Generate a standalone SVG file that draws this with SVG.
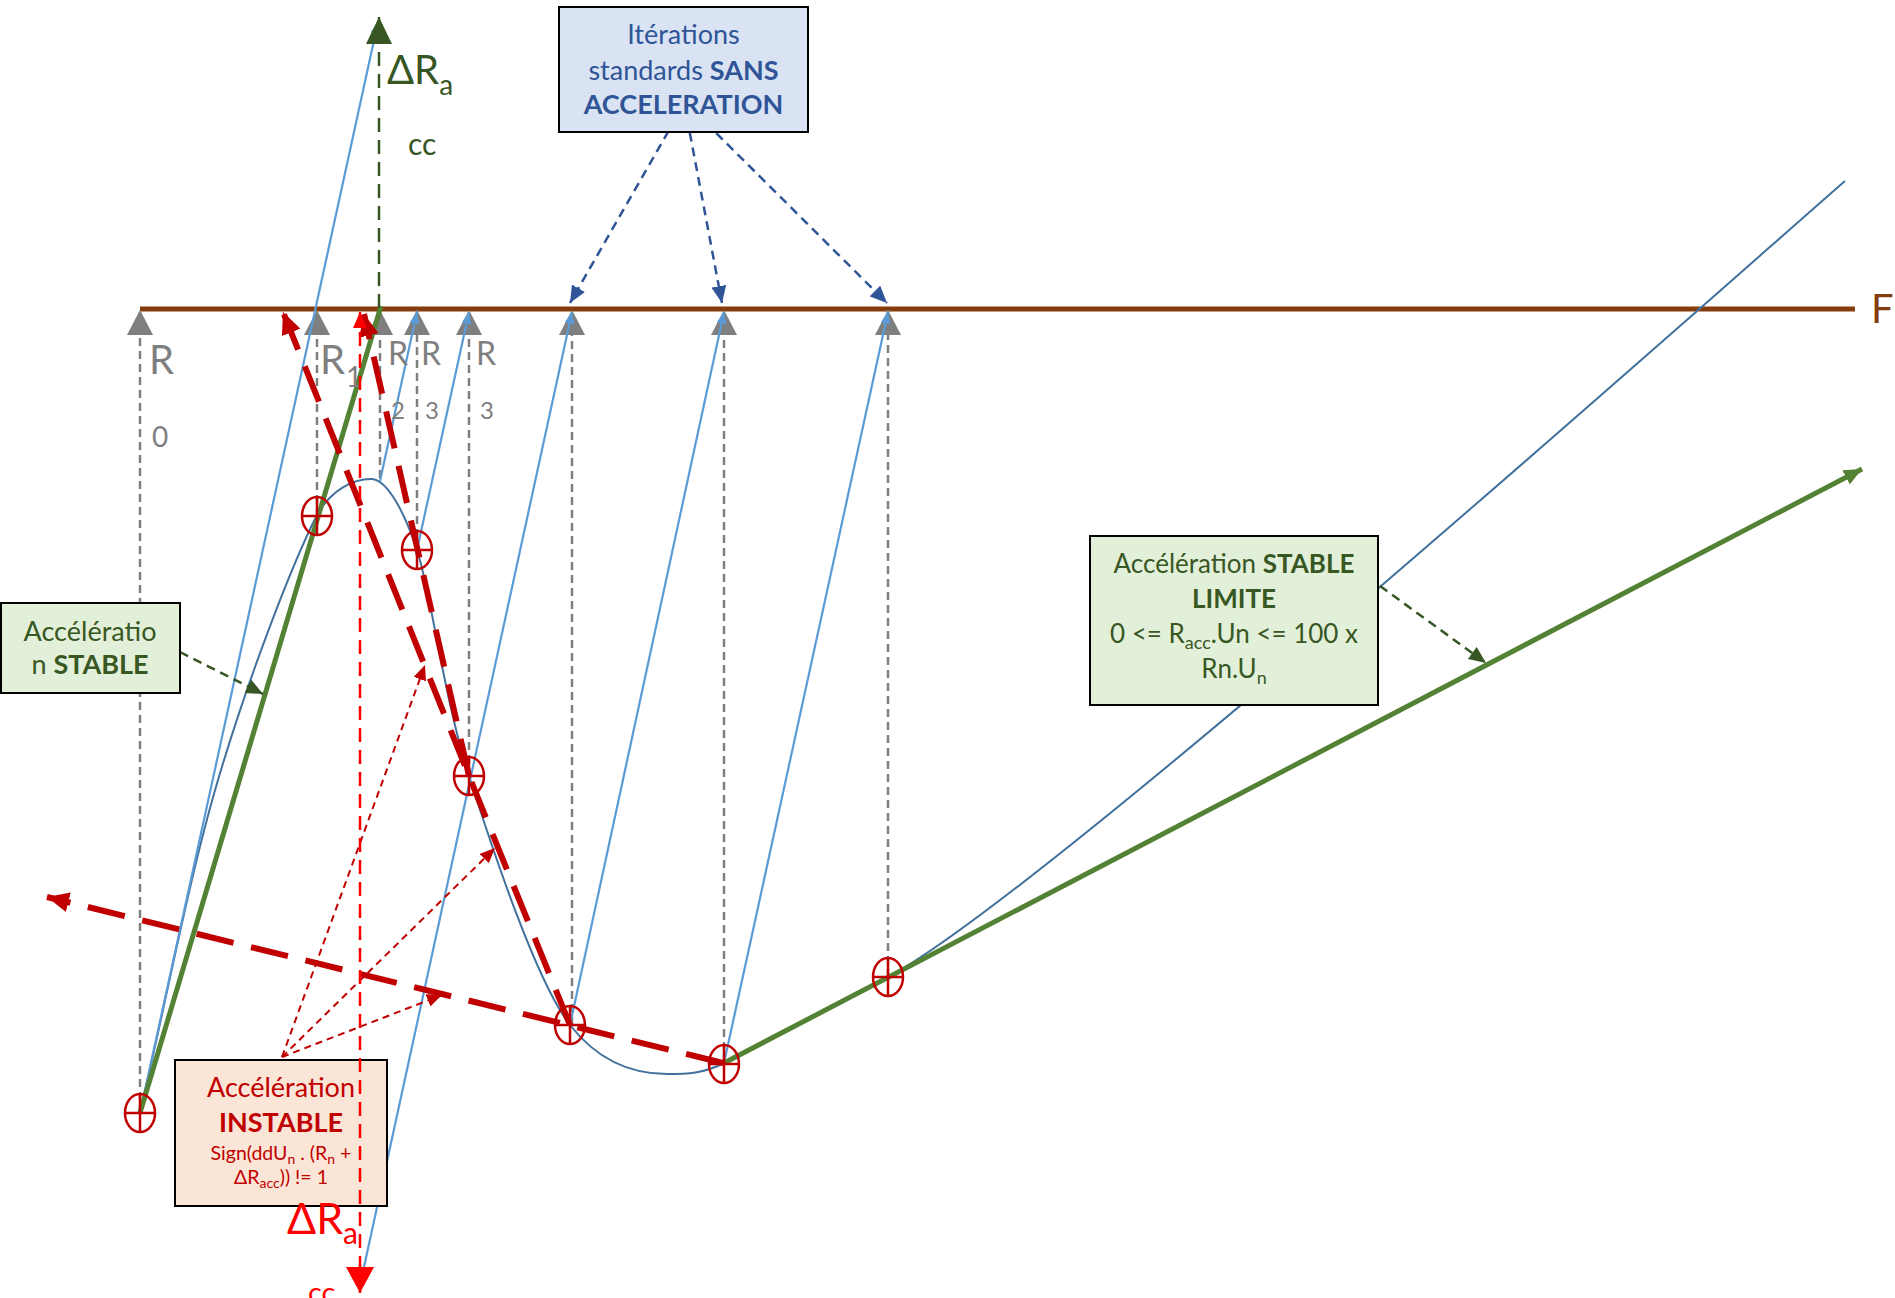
<svg xmlns="http://www.w3.org/2000/svg" width="1895" height="1298" viewBox="0 0 1895 1298">
<style>
.t{font-family:Lato,"Noto Sans","Liberation Sans",sans-serif}
.b{font-weight:bold}
.gd{stroke:#7F7F7F;stroke-width:2.5;stroke-dasharray:8 5;fill:none}
.bl{stroke:#5B9BD5;stroke-width:2.2;fill:none}
.gr{stroke:#548235;stroke-width:5;fill:none}
.rt{stroke:#C00000;stroke-width:6;stroke-dasharray:38 18;fill:none}
.rn{stroke:#C00000;stroke-width:2;stroke-dasharray:7 5;fill:none}
.nv{stroke:#2F5597;stroke-width:2.5;stroke-dasharray:9 6;fill:none}
.dg{stroke:#375623;stroke-width:2.5;stroke-dasharray:9 6;fill:none}
.box{stroke:#000;stroke-width:2}
.gl{fill:#7F7F7F}
.mk ellipse,.mk line{stroke:#C00000;stroke-width:2.5;fill:none}
</style>
<defs>
<marker id="aGray" markerUnits="userSpaceOnUse" markerWidth="26" markerHeight="26" refX="25" refY="13" orient="auto"><path d="M0,0L25,13L0,26z" fill="#7F7F7F"/></marker>
<marker id="aGreenBig" markerUnits="userSpaceOnUse" markerWidth="27" markerHeight="26" refX="27" refY="13" orient="auto"><path d="M0,0L27,13L0,26z" fill="#375623"/></marker>
<marker id="aRedBig" markerUnits="userSpaceOnUse" markerWidth="26" markerHeight="28" refX="26" refY="14" orient="auto"><path d="M0,0L26,14L0,28z" fill="#FF0000"/></marker>
<marker id="aRedSmall" markerUnits="userSpaceOnUse" markerWidth="16" markerHeight="14" refX="16" refY="7" orient="auto"><path d="M0,0L16,7L0,14z" fill="#FF0000"/></marker>
<marker id="aBlue" markerUnits="userSpaceOnUse" markerWidth="12" markerHeight="10" refX="12" refY="5" orient="auto"><path d="M0,0L12,5L0,10z" fill="#5B9BD5"/></marker>
<marker id="aNavy" markerUnits="userSpaceOnUse" markerWidth="17" markerHeight="15" refX="17" refY="7.5" orient="auto"><path d="M0,0L17,7.5L0,15z" fill="#2F5597"/></marker>
<marker id="aDG" markerUnits="userSpaceOnUse" markerWidth="17" markerHeight="15" refX="17" refY="7.5" orient="auto"><path d="M0,0L17,7.5L0,15z" fill="#375623"/></marker>
<marker id="aGreen" markerUnits="userSpaceOnUse" markerWidth="18" markerHeight="16" refX="18" refY="8" orient="auto"><path d="M0,0L18,8L0,16z" fill="#548235"/></marker>
<marker id="aRedT" markerUnits="userSpaceOnUse" markerWidth="22" markerHeight="20" refX="22" refY="10" orient="auto"><path d="M0,0L22,10L0,20z" fill="#C00000"/></marker>
<marker id="aRedN" markerUnits="userSpaceOnUse" markerWidth="15" markerHeight="13" refX="15" refY="6.5" orient="auto"><path d="M0,0L15,6.5L0,13z" fill="#C00000"/></marker>
<g id="mk" class="mk"><ellipse cx="0" cy="0" rx="15" ry="19"/><line x1="-15" y1="0" x2="15" y2="0"/><line x1="0" y1="-19" x2="0" y2="19"/></g>
</defs>
<rect width="1895" height="1298" fill="#fff"/>

<g id="connectors">
<line x1="140" y1="309" x2="1855" y2="309" stroke="#843C0C" stroke-width="5"/>
<line class="gd" x1="140" y1="1113" x2="140" y2="310" marker-end="url(#aGray)"/>
<line class="gd" x1="317" y1="516" x2="317" y2="310" marker-end="url(#aGray)"/>
<line class="gd" x1="380" y1="478" x2="380" y2="310" marker-end="url(#aGray)"/>
<line class="gd" x1="417" y1="550" x2="417" y2="310" marker-end="url(#aGray)"/>
<line class="gd" x1="469" y1="776" x2="469" y2="310" marker-end="url(#aGray)"/>
<line class="gd" x1="572" y1="1025" x2="572" y2="310" marker-end="url(#aGray)"/>
<line class="gd" x1="724" y1="1063" x2="724" y2="310" marker-end="url(#aGray)"/>
<line class="gd" x1="888" y1="977" x2="888" y2="310" marker-end="url(#aGray)"/>
<path d="M140,1113 C166,1002 188.5,879.7 218,780 C247.5,680.3 291.5,565 317,515 C331,490 353,479 371,479 C386,479 403,508 417,550 C431,592 443.5,696.8 469,776 C494.5,855.2 537,983 570,1025 C595,1057 627,1074 667,1074 C687,1074 704,1073.5 724,1063 L888,977 C1038,898 1695,312 1845,181" fill="none" stroke="#41719C" stroke-width="2"/>
<line class="bl" x1="140" y1="1113" x2="378" y2="22" marker-end="url(#aBlue)"/>
<line class="bl" x1="380" y1="481" x2="417" y2="312" marker-end="url(#aBlue)"/>
<line class="bl" x1="417" y1="550" x2="469" y2="312" marker-end="url(#aBlue)"/>
<line class="bl" x1="364" y1="1267" x2="572" y2="312" marker-end="url(#aBlue)"/>
<line class="bl" x1="570" y1="1025" x2="724" y2="312" marker-end="url(#aBlue)"/>
<line class="bl" x1="724" y1="1063" x2="888" y2="312" marker-end="url(#aBlue)"/>
<line class="gr" x1="140" y1="1113" x2="381" y2="306"/>
<line class="gr" x1="724" y1="1063" x2="1862" y2="469" marker-end="url(#aGreen)"/>
<line x1="379" y1="308" x2="379" y2="17" stroke="#375623" stroke-width="2.5" stroke-dasharray="14 8" marker-end="url(#aGreenBig)"/>
<polyline class="rt" points="570,1025 469,776 283,312" marker-end="url(#aRedT)"/>
<line class="rt" x1="469" y1="776" x2="364" y2="314" marker-end="url(#aRedT)"/>
<line class="rt" x1="723" y1="1063" x2="47" y2="897" marker-end="url(#aRedT)"/>
<line class="rn" x1="282" y1="1057" x2="425" y2="665" marker-end="url(#aRedN)"/>
<line class="rn" x1="282" y1="1057" x2="495" y2="848" marker-end="url(#aRedN)"/>
<line class="rn" x1="282" y1="1057" x2="442" y2="995" marker-end="url(#aRedN)"/>
<line class="nv" x1="676" y1="118" x2="570" y2="303" marker-end="url(#aNavy)"/>
<line class="nv" x1="687" y1="118" x2="722" y2="303" marker-end="url(#aNavy)"/>
<line class="nv" x1="695" y1="112" x2="887" y2="303" marker-end="url(#aNavy)"/>
<line class="dg" x1="180" y1="652" x2="263" y2="694" marker-end="url(#aDG)"/>
<line class="dg" x1="1380" y1="586" x2="1486" y2="663" marker-end="url(#aDG)"/>
</g>

<g id="points">
<use href="#mk" x="140" y="1113"/>
<use href="#mk" x="317" y="516"/>
<use href="#mk" x="417" y="550"/>
<use href="#mk" x="469" y="776"/>
<use href="#mk" x="570" y="1025"/>
<use href="#mk" x="724" y="1064"/>
<use href="#mk" x="888" y="977"/>
</g>

<g id="labels" class="t">
<text x="1871" y="323" font-size="40" fill="#843C0C">F</text>
<text x="149" y="374" font-size="40" class="gl">R</text>
<text x="152" y="447" font-size="28" class="gl">0</text>
<text x="320" y="374" font-size="40" class="gl">R</text>
<text x="346" y="387" font-size="28" class="gl">1</text>
<text x="388" y="365" font-size="32" class="gl">R</text>
<text x="391" y="419" font-size="24" class="gl">2</text>
<text x="421" y="365" font-size="32" class="gl">R</text>
<text x="425" y="419" font-size="24" class="gl">3</text>
<text x="476" y="365" font-size="32" class="gl">R</text>
<text x="480" y="419" font-size="24" class="gl">3</text>
<text x="387" y="84" font-size="40" fill="#375623">ΔR<tspan font-size="28" dy="11">a</tspan></text>
<text x="408" y="155" font-size="30" fill="#375623">cc</text>
</g>

<g id="box-iterations" class="t">
<rect class="box" x="559" y="7" width="249" height="125" fill="#DAE3F3"/>
<text x="683.5" y="44" font-size="27" fill="#2F5597" text-anchor="middle">Itérations</text>
<text x="683.5" y="80" font-size="27" fill="#2F5597" text-anchor="middle">standards <tspan class="b">SANS</tspan></text>
<text x="683.5" y="114" font-size="27" fill="#2F5597" text-anchor="middle" class="b">ACCELERATION</text>
</g>

<g id="box-stable" class="t">
<rect class="box" x="1" y="603" width="179" height="90" fill="#E2F0D9"/>
<text x="90" y="641" font-size="27" fill="#385723" text-anchor="middle">Accélératio</text>
<text x="90" y="674" font-size="27" fill="#385723" text-anchor="middle">n <tspan class="b">STABLE</tspan></text>
</g>

<g id="box-limite" class="t">
<rect class="box" x="1090" y="536" width="288" height="169" fill="#E2F0D9"/>
<text x="1234" y="573" font-size="26" fill="#385723" text-anchor="middle">Accélération <tspan class="b">STABLE</tspan></text>
<text x="1234" y="608" font-size="26" fill="#385723" text-anchor="middle" class="b">LIMITE</text>
<text x="1234" y="643" font-size="26" fill="#385723" text-anchor="middle">0 &lt;= R<tspan font-size="18" dy="6">acc</tspan><tspan dy="-6">.Un &lt;= 100 x</tspan></text>
<text x="1234" y="678" font-size="26" fill="#385723" text-anchor="middle">Rn.U<tspan font-size="18" dy="6">n</tspan></text>
</g>

<g id="box-instable" class="t">
<rect class="box" x="175" y="1060" width="212" height="146" fill="#FBE5D6"/>
<text x="281" y="1097" font-size="27" fill="#C00000" text-anchor="middle">Accélération</text>
<text x="281" y="1132" font-size="27" fill="#C00000" text-anchor="middle" class="b">INSTABLE</text>
<text x="281" y="1160" font-size="19.5" fill="#C00000" text-anchor="middle">Sign(ddU<tspan font-size="14" dy="4">n</tspan><tspan dy="-4"> . (R</tspan><tspan font-size="14" dy="4">n</tspan><tspan dy="-4"> +</tspan></text>
<text x="281" y="1184" font-size="19.5" fill="#C00000" text-anchor="middle">ΔR<tspan font-size="14" dy="4">acc</tspan><tspan dy="-4">)) != 1</tspan></text>
</g>

<g id="connectors-top">
<line x1="360" y1="1265" x2="360" y2="1293" stroke="#FF0000" stroke-width="2.5" marker-end="url(#aRedBig)"/>
<line x1="360" y1="1270" x2="360" y2="312" stroke="#FF0000" stroke-width="2.5" stroke-dasharray="14 8" marker-end="url(#aRedSmall)"/>
</g>

<g id="label-red" class="t">
<text x="287" y="1234" font-size="43" fill="#FF0000">ΔR<tspan font-size="30" dy="10">a</tspan></text>
<text x="308" y="1303" font-size="29" fill="#FF0000">cc</text>
</g>
</svg>
